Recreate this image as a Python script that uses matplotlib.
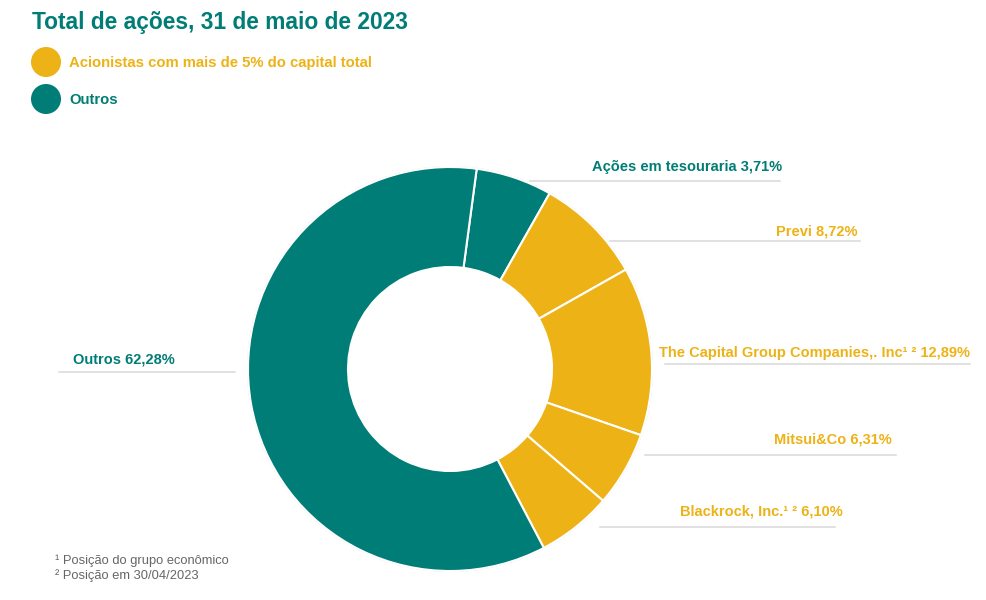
import numpy as np
import matplotlib
matplotlib.use('Agg')
import matplotlib.pyplot as plt
from matplotlib.patches import Circle

plt.rcParams['font.family'] = ['Liberation Sans', 'DejaVu Sans']

# data
names = ['Ações em tesouraria', 'Previ', 'The Capital Group Companies,. Inc¹ ²',
         'Mitsui&Co', 'Blackrock, Inc.¹ ²', 'Outros']
pct_labels = ['3,71%', '8,72%', '12,89%', '6,31%', '6,10%', '62,28%']
# slice sizes as drawn in the picture (they differ slightly from the printed labels)
slice_share = [6.1, 8.6, 13.5, 6.0, 6.0, 59.8]
groups = ['outros', 'acionistas', 'acionistas', 'acionistas', 'acionistas', 'outros']
legend_labels = ['Acionistas com mais de 5% do capital total', 'Outros']

TEAL = '#007d76'
YELLOW = '#edb215'
GRID = '#d9d9d9'
colors = {'acionistas': YELLOW, 'outros': TEAL}

W, H = 987, 600
fig = plt.figure(figsize=(W / 100, H / 100), dpi=100)
ax = fig.add_axes([0, 0, 1, 1])

def Y(y):
    return H - y

cx, cy, R, r_in = 450, 369, 202, 102
ax.pie(slice_share, colors=[colors[g] for g in groups], startangle=82.4,
       counterclock=False, center=(cx, Y(cy)), radius=R,
       wedgeprops=dict(width=R - r_in, edgecolor='white', linewidth=1.5))
ax.add_patch(Circle((cx, Y(cy)), R + 0.5, fill=False, ec='#e4e4e4', lw=0.8, zorder=0))

ax.set_xlim(0, W)
ax.set_ylim(0, H)
ax.set_aspect('auto')
ax.axis('off')

# labels with leader lines: (text x, text y, align, line x0, line x1, line y)
label_pos = [
    (782, 167, 'right', 530, 780, 181),
    (858, 231, 'right', 610, 860, 241),
    (970, 353, 'right', 665, 970, 364),
    (892, 440, 'right', 645, 896, 455),
    (843, 511, 'right', 600, 835, 527),
    (73, 360, 'left', 59, 235, 372),
]
for i, (tx, ty, ha, x0, x1, ly) in enumerate(label_pos):
    c = colors[groups[i]]
    ax.plot([x0, x1], [Y(ly), Y(ly)], color=GRID, lw=1.1, zorder=1)
    ax.text(tx, Y(ty), names[i] + ' ' + pct_labels[i], ha=ha, va='center',
            color=c, fontsize=10.5, fontweight='bold')

# title
ax.text(32, Y(23), 'Total de ações, 31 de maio de 2023', ha='left', va='center',
        color=TEAL, fontsize=16.4, fontweight='bold')

# legend
for k, (lab, key) in enumerate(zip(legend_labels, ['acionistas', 'outros'])):
    ly = 62 + k * 37
    ax.add_patch(Circle((46, Y(ly)), 15, color=colors[key], lw=0))
    ax.text(69, Y(ly + 1), lab, ha='left', va='center', color=colors[key],
            fontsize=10.75, fontweight='bold')

# footnotes
ax.text(55, Y(561), '¹ Posição do grupo econômico', ha='left', va='center',
        color='#666666', fontsize=9.3)
ax.text(55, Y(576), '² Posição em 30/04/2023', ha='left', va='center',
        color='#666666', fontsize=9.3)

fig.savefig('out.png', dpi=100, facecolor='white')
